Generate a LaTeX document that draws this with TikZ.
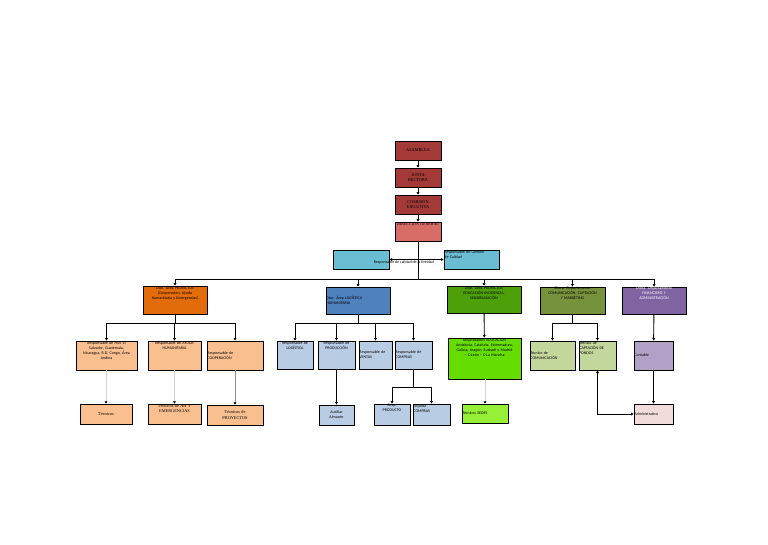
\documentclass[tikz,border=0pt]{standalone}
\usepackage{fontspec}
\setmainfont{Carlito}
\newfontfamily\tnr{Liberation Serif}
\usetikzlibrary{arrows.meta}
\definecolor{dred}{RGB}{163,58,56}
\definecolor{lred}{RGB}{216,108,102}
\definecolor{cyanb}{RGB}{107,189,212}
\definecolor{orab}{RGB}{227,108,10}
\definecolor{lora}{RGB}{250,191,143}
\definecolor{blub}{RGB}{79,129,189}
\definecolor{lblu}{RGB}{184,204,228}
\definecolor{grnb}{RGB}{78,160,10}
\definecolor{bgrn}{RGB}{102,221,0}
\definecolor{lgrn}{RGB}{150,240,55}
\definecolor{oliv}{RGB}{118,146,60}
\definecolor{loli}{RGB}{195,214,155}
\definecolor{purb}{RGB}{128,100,162}
\definecolor{lpur}{RGB}{178,161,199}
\definecolor{pink}{RGB}{242,220,219}
\tikzset{
  box/.style={draw=black, line width=0.8pt, inner sep=0pt},
  txt/.style={font=\fontsize{4}{5}\selectfont, align=center, inner sep=0.6pt},
  sertxt/.style={font=\tnr\fontsize{4.3}{5.3}\selectfont, align=center, inner sep=0.6pt},
  ltxt/.style={font=\fontsize{4}{5}\selectfont, align=left, inner sep=0.6pt},
  conn/.style={line width=0.9pt, draw=black},
  arr/.style={conn, -{Triangle[length=2.6pt,width=2.8pt]}},
  arrb/.style={conn, {Triangle[length=2.6pt,width=2.8pt]}-{Triangle[length=2.6pt,width=2.8pt]}},
  garr/.style={line width=0.9pt, draw=black!18, -{Triangle[length=2.2pt,width=2.6pt,color=black]}},
  darr/.style={line width=0.9pt, draw=black!45, -{Triangle[length=2.2pt,width=2.6pt,color=black]}},
}
% name, x1, y1, x2, y2, box style, text anchor, text style, text
\newcommand\bx[9]{%
  \pgfmathsetmacro\bxw{#4-#2}\pgfmathsetmacro\bxh{#5-#3}\pgfmathsetmacro\bxt{#4-#2-1.5}%
  \node[box,#6,minimum width=\bxw pt,minimum height=\bxh pt] (#1) at ({(#2+#4)/2},{(#3+#5)/2}) {};
  \node[text width=\bxt pt,#8,anchor=#7] (#1t) at (#1.#7) {#9};
}
\begin{document}
\begin{tikzpicture}[x=1pt,y=-1pt]
\useasboundingbox[fill=white] (0,0) rectangle (768,544);
% top chain
\bx{asam}{395}{141}{441}{160}{fill=dred}{center}{sertxt}{ASAMBLEA}
\bx{junta}{395}{168}{441}{187}{fill=dred}{center}{sertxt}{JUNTA\\RECTORA}
\bx{comi}{395}{195}{441}{214}{fill=dred}{center}{sertxt}{COMISIÓN\\EJECUTIVA}
\bx{dg}{395}{222}{441}{241}{fill=lred}{north}{sertxt,text width=50pt,font=\tnr\fontsize{4}{5}\selectfont}{DIRECCIÓN GENERAL}
\draw[arr] (asam) -- (junta);
\draw[arr] (junta) -- (comi);
\draw[arr] (comi) -- (dg);
% cyan
\bx{cyl}{333}{250}{389}{269}{fill=cyanb}{center}{txt}{}
\bx{cyr}{444}{250}{499}{269}{fill=cyanb}{north west}{ltxt}{Responsable de Gestión\\de Calidad}
\coordinate (bar) at (418,279);
\draw[conn] (dg) -- (bar);
\draw[arrb] (cyl.east) -- (cyr.west);
\node[txt, anchor=west] (cylt2) at (373,262) {Responsable de calidad de la Entidad};
% level 2
\bx{ora}{143}{286}{207}{314}{fill=orab}{north}{txt}{Dtor. Área PROYECTOS\\(Cooperación, Ayuda\\Humanitaria y Emergencias)}
\bx{blu}{326}{287}{390}{314}{fill=blub}{west}{ltxt}{Dtor. Área LOGÍSTICA\\HUMANITARIA}
\bx{grn}{447}{286}{521}{313}{fill=grnb}{north}{txt}{Dtor. Área PROYECTOS\\EDUCACIÓN INCIDENCIA,\\SENSIBILIZACIÓN}
\bx{oli}{540}{287}{605}{314}{fill=oliv}{north}{txt}{Dtora. Departamento\\COMUNICACIÓN, CAPTACIÓN\\Y MARKETING}
\bx{pur}{622}{287}{686}{314}{fill=purb}{north}{txt,text=white}{Dtora. Departamento\\FINANCIERO Y\\ADMINISTRACIÓN}
\draw[conn] (ora.north |- bar) -- (pur.north |- bar);
\foreach \n in {ora,blu,grn,oli,pur} \draw[arr] (\n.north |- bar) -- (\n);
% orange branch
\bx{pais}{76}{341}{137}{370}{fill=lora}{north}{txt}{Responsable de PAIS El\\Salvador, Guatemala,\\Nicaragua, R.D. Congo, Área\\Andina}
\bx{ayu}{148}{341}{201}{370}{fill=lora}{north}{txt}{Responsable de AYUDA\\HUMANITARIA}
\bx{coop}{207}{341}{263}{370}{fill=lora}{west}{ltxt}{Responsable de\\COOPERACIÓN}
\coordinate (obar) at (175,323);
\draw[conn] (ora) -- (obar);
\draw[conn] (pais.north |- obar) -- (coop.north |- obar);
\foreach \n in {pais,ayu,coop} \draw[arr] (\n.north |- obar) -- (\n);
\bx{tec}{80}{404}{132}{424}{fill=lora}{center}{sertxt}{Técnicos}
\bx{tah}{148}{404}{201}{424}{fill=lora}{north}{sertxt}{Técnicos de AH Y\\EMERGENCIAS}
\bx{tpro}{207}{405}{263}{425}{fill=lora}{center}{sertxt}{Técnicos de\\PROYECTOS}
\draw[garr] (pais.south -| tec) -- (tec);
\draw[garr] (ayu) -- (tah);
\draw[darr] (coop) -- (tpro);
% blue branch
\bx{log}{277}{341}{313}{369}{fill=lblu}{north}{txt}{Responsable de\\LOGÍSTICA}
\bx{prod}{318}{341}{355}{369}{fill=lblu}{north}{txt}{Responsable de\\PRODUCCIÓN}
\bx{vent}{359}{341}{392}{369}{fill=lblu}{west}{ltxt}{Responsable de\\VENTAS}
\bx{comp}{395}{341}{432}{369}{fill=lblu}{west}{ltxt}{Responsable de\\COMPRAS}
\coordinate (bbar) at (358,323);
\draw[conn] (blu) -- (bbar);
\draw[conn] (log.north |- bbar) -- (comp.north |- bbar);
\foreach \n in {log,prod,vent,comp} \draw[arr] (\n.north |- bbar) -- (\n);
\bx{aux}{319}{405}{354}{425}{fill=lblu}{center}{txt}{Auxiliar\\Almacén}
\draw[arr] (prod) -- (aux);
\bx{rprod}{374}{404}{410}{425}{fill=lblu}{north}{txt}{Resp.\\PRODUCTO}
\bx{adj}{413}{404}{450}{425}{fill=lblu}{north west}{ltxt}{Adjunta\\COMPRAS}
\coordinate (cbar) at (413.5,387);
\draw[conn] (comp) -- (cbar);
\draw[conn] (rprod.north |- cbar) -- (adj.north |- cbar);
\foreach \n in {rprod,adj} \draw[arr] (\n.north |- cbar) -- (\n);
% green branch
\bx{edu}{448}{338}{521}{379}{fill=bgrn}{north}{txt}{Responsables EDUCACIÓN\\Andalucía, Cataluña, Extremadura,\\Galicia, Aragón, Euskadi y Madrid\\– C-León - C-La Mancha}
\draw[arr] (grn) -- (edu);
\bx{sedes}{462}{404}{508}{423}{fill=lgrn}{west}{ltxt}{Técnicos SEDES}
\draw[garr] (edu.south -| sedes) -- (sedes);
% olive branch
\bx{com}{530}{341}{575}{370}{fill=loli}{west}{ltxt}{Técnico de\\COMUNICACIÓN}
\bx{capt}{579}{341}{616}{370}{fill=loli}{north west}{ltxt}{Técnico de\\CAPTACIÓN DE\\FONDOS}
\coordinate (vbar) at (572.5,323);
\draw[conn] (oli) -- (vbar);
\draw[conn] (com.north |- vbar) -- (capt.north |- vbar);
\foreach \n in {com,capt} \draw[arr] (\n.north |- vbar) -- (\n);
% purple branch
\bx{cont}{634}{341}{673}{370}{fill=lpur}{west}{ltxt}{Contable}
\bx{admin}{634}{404}{673}{424}{fill=pink}{west}{ltxt}{Administrativo}
\draw[arr] (pur) -- (cont);
\draw[arr] (cont) -- (admin);
\draw[arrb] (capt.south) |- (admin.west);
\end{tikzpicture}
\end{document}
